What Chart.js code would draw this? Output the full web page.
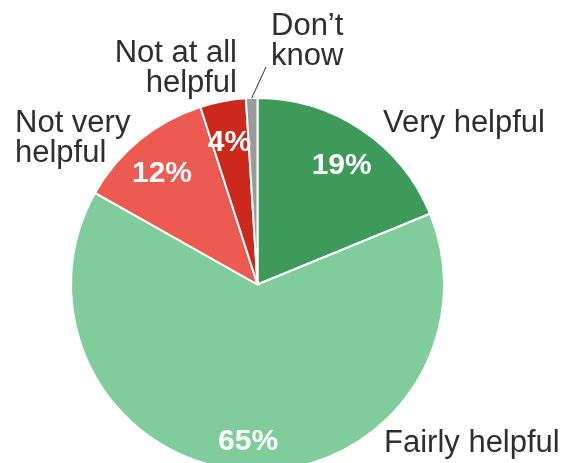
<!DOCTYPE html>
<html>
<head>
<meta charset="utf-8">
<script src="https://cdn.jsdelivr.net/npm/chart.js@4"></script>
<style>
  html, body { margin: 0; padding: 0; background: #fff; }
  #wrap { width: 565px; height: 463px; overflow: hidden; }
</style>
</head>
<body>
<div id="wrap"><canvas id="pie" width="565" height="480"></canvas></div>
<script>
var categories = ['Very helpful', 'Fairly helpful', 'Not very helpful', 'Not at all helpful', "Don\u2019t know"];
var shares = [19, 65, 12, 4, 1];
var sliceColors = ['#3d9a5b', '#80cd9b', '#ec5a51', '#cc281b', '#9a9a9a'];

// text lines for the names around the pie
var nameLines = [
    ['Very helpful'],
    ['Fairly helpful'],
    ['Not very', 'helpful'],
    ['Not at all', 'helpful'],
    ['Don\u2019t', 'know']
];

var nameSpots = [
    { x: 383, y: 132, align: 'left' },
    { x: 384, y: 452, align: 'left' },
    { x: 15, y: 132, align: 'left' },
    { x: 237, y: 62, align: 'right' },
    { x: 271, y: 35, align: 'left', leader: { x: 266, y: 67 } }
];

var pieLabels = {
    id: 'pieLabels',
    afterDatasetsDraw: function (chart) {
        var c = chart.ctx;
        var meta = chart.getDatasetMeta(0);
        c.save();

        // percentages inside the slices (digits centred a little below the anchor)
        c.fillStyle = '#ffffff';
        c.font = 'bold 30px "Liberation Sans", Arial, sans-serif';
        c.textAlign = 'center';
        c.textBaseline = 'alphabetic';
        meta.data.forEach(function (arc, i) {
            if (shares[i] < 3) return;
            var mid = (arc.startAngle + arc.endAngle) / 2;
            var r = arc.outerRadius * 0.81;
            c.fillText(shares[i] + '%', arc.x + Math.cos(mid) * r, arc.y + Math.sin(mid) * r + 14.5);
        });

        // category names outside
        c.fillStyle = '#2e2e2e';
        c.font = '31px "Liberation Sans", Arial, sans-serif';
        meta.data.forEach(function (arc, i) {
            var s = nameSpots[i];
            c.textAlign = s.align;
            nameLines[i].forEach(function (line, j) {
                c.fillText(line, s.x, s.y + j * 29.5);
            });
            if (s.leader) {
                var mid = (arc.startAngle + arc.endAngle) / 2;
                c.strokeStyle = '#333333';
                c.lineWidth = 1;
                c.beginPath();
                c.moveTo(arc.x + Math.cos(mid) * arc.outerRadius, arc.y + Math.sin(mid) * arc.outerRadius);
                c.lineTo(s.leader.x, s.leader.y);
                c.stroke();
            }
        });
        c.restore();
    }
};

new Chart(document.getElementById('pie').getContext('2d'), {
    type: 'pie',
    data: {
        labels: categories,
        datasets: [{
            data: shares,
            backgroundColor: sliceColors,
            borderColor: '#ffffff',
            borderWidth: 2
        }]
    },
    options: {
        responsive: false,
        animation: false,
        layout: { padding: { left: 70, right: 120, top: 97, bottom: 8 } },
        plugins: {
            legend: { display: false },
            tooltip: { enabled: false }
        }
    },
    plugins: [pieLabels]
});
</script>
</body>
</html>
